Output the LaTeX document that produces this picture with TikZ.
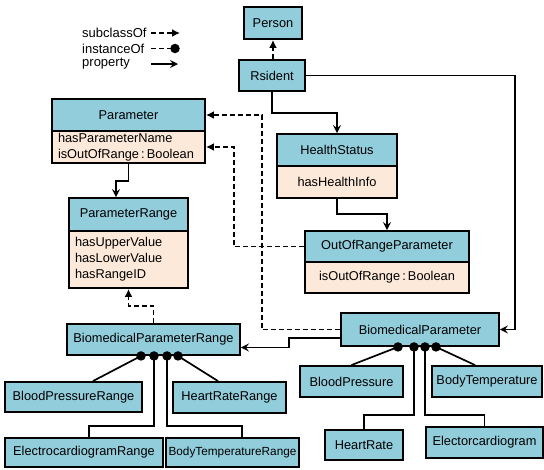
\documentclass[tikz,border=0pt]{standalone}
\usepackage{fontspec}
\setmainfont{Liberation Sans}
\usetikzlibrary{arrows.meta,calc}
\definecolor{hdr}{RGB}{146,205,220}
\definecolor{bdy}{RGB}{253,233,217}
\begin{document}
\begin{tikzpicture}[x=1pt,y=-1pt,
  box/.style={draw=black,line width=1.9pt,fill=hdr,inner sep=0pt,font=\fontsize{12.8}{16}\selectfont},
  body/.style={box,fill=bdy},
  conn/.style={line width=1.7pt},
  subc/.style={conn,dash pattern=on 5pt off 3pt,-{Latex[length=8pt,width=8pt]}},
  prop/.style={conn,-{Stealth[length=8pt,width=8pt,inset=3pt]}},
  inst/.style={conn},
  dot/.style={circle,fill=black,inner sep=0pt,minimum size=9.5pt},
  legtext/.style={inner sep=0pt,anchor=west,font=\fontsize{13}{15}\selectfont},
]
\useasboundingbox (0,0) rectangle (544,469);

% legend
\node[legtext] (lsub) at (82,33) {subclassOf};
\node[legtext] (linst) at (82,48.5) {instanceOf};
\node[legtext] (lprop) at (82,64) {property};
\coordinate (lsubS) at (151,33);
\coordinate (lsubE) at (180,33);
\coordinate (linstS) at (151,48.5);
\coordinate (linstE) at (175,48.5);
\coordinate (lpropS) at (151,64);
\coordinate (lpropE) at (178,64);
\draw[subc] (lsubS) -- (lsubE);
\draw[conn,dash pattern=on 5pt off 3pt] (linstS) -- (linstE);
\node[dot] (linstD) at (linstE) {};
\draw[prop] (lpropS) -- (lpropE);

% classes
\node[box,minimum width=58pt,minimum height=32pt] (person) at (273,23) {Person};
\node[box,minimum width=66pt,minimum height=31pt] (rsident) at (272,75.5) {Rsident};
\node[box,minimum width=153pt,minimum height=32pt] (param) at (128.5,115) {Parameter};
\node[body,align=left,inner xsep=6pt,text width=141pt,minimum height=32pt] (paramB) at (128.5,147) {hasParameterName\\isOutOfRange\thinspace:\thinspace Boolean};
\node[box,minimum width=119pt,minimum height=33pt] (prange) at (128.5,214.5) {ParameterRange};
\node[body,align=left,inner xsep=6pt,text width=107pt,minimum height=57pt] (prangeB) at (128.5,259.5) {hasUpperValue\\hasLowerValue\\hasRangeID};
\node[box,minimum width=120pt,minimum height=32pt] (health) at (337,150) {HealthStatus};
\node[body,minimum width=120pt,minimum height=32pt] (healthB) at (337,182) {hasHealthInfo};
\node[box,minimum width=164pt,minimum height=31pt] (oorp) at (387,246.5) {OutOfRangeParameter};
\node[body,minimum width=164pt,minimum height=31pt] (oorpB) at (387,277.5) {isOutOfRange\thinspace:\thinspace Boolean};
\node[box,minimum width=158pt,minimum height=33pt] (bp) at (420,329.5) {BiomedicalParameter};
\node[box,minimum width=173pt,minimum height=31pt] (bpr) at (153.5,339.5) {BiomedicalParameterRange};
\node[box,minimum width=137pt,minimum height=30pt] (bprr) at (73.5,397) {BloodPressureRange};
\node[box,minimum width=113pt,minimum height=31pt] (hrr) at (229.5,397.5) {HeartRateRange};
\node[box,minimum width=158pt,minimum height=29pt] (ecgr) at (84,452.5) {ElectrocardiogramRange};
\node[box,minimum width=133pt,minimum height=29pt,font=\fontsize{11.8}{14}\selectfont] (btr) at (232.5,452.5) {BodyTemperatureRange};
\node[box,minimum width=103pt,minimum height=31pt] (bpress) at (351.5,381.5) {BloodPressure};
\node[box,minimum width=110pt,minimum height=31pt] (btemp) at (487,381.5) {BodyTemperature};
\node[box,minimum width=78pt,minimum height=30pt] (hr) at (364,445) {HeartRate};
\node[box,minimum width=117pt,minimum height=31pt] (ecg) at (484.5,442.5) {Electorcardiogram};

% properties
\draw[subc] (rsident.north -| person.south) -- (person.south);
\draw[prop] (rsident.south) -- ++(0,21) -| (health.north);
\draw[prop] (rsident.east) -- ++(209,0) |- (bp.east);
\draw[prop] (healthB.south) -- ++(0,15) -| (oorp.north);
\draw[prop] (paramB.south) -- ++(0,17) -| ($(prange.north)+(-12.5,0)$);
\draw[subc] (oorp.west) -- ++(-70,0) |- (paramB.east);
\draw[subc] (bp.west) -- ++(-78,0) |- (param.east);
\draw[prop] ($(bp.west)+(0,8.5)$) -- ++(-51,0) |- ($(bpr.east)+(0,8)$);
\draw[subc] (bpr.north) -- ++(0,-17) -| (prangeB.south);

% instances of BiomedicalParameterRange
\coordinate (bprc1) at ($(bpr.south)+(-12.5,0)$);
\coordinate (bprc2) at ($(bpr.south)+(0.5,0)$);
\coordinate (bprc3) at ($(bpr.south)+(13.5,0)$);
\coordinate (bprc4) at ($(bpr.south)+(24.5,0)$);
\draw[inst] ($(bprr.north)+(19.5,0)$) -- (bprc1);
\draw[inst] ($(ecgr.north)+(5,0)$) |- ($(bprc2)+(0,70)$) -- (bprc2);
\draw[inst] ($(btr.north)+(9.5,0)$) |- ($(bprc3)+(0,70)$) -- (bprc3);
\draw[inst] ($(hrr.north)+(-11.5,0)$) -- (bprc4);
\node[dot] (bprd1) at (bprc1) {};
\node[dot] (bprd2) at (bprc2) {};
\node[dot] (bprd3) at (bprc3) {};
\node[dot] (bprd4) at (bprc4) {};

% instances of BiomedicalParameter
\coordinate (bpc1) at ($(bp.south)+(-22,0)$);
\coordinate (bpc2) at ($(bp.south)+(-6,0)$);
\coordinate (bpc3) at ($(bp.south)+(5,0)$);
\coordinate (bpc4) at ($(bp.south)+(16,0)$);
\draw[inst] (bpress.north) -- (bpc1);
\draw[inst] (hr.north) |- ($(bpc2)+(0,68)$) -- (bpc2);
\draw[inst] (ecg.north) |- ($(bpc3)+(0,68)$) -- (bpc3);
\draw[inst] ($(btemp.north)+(-12,0)$) -- (bpc4);
\node[dot] (bpd1) at (bpc1) {};
\node[dot] (bpd2) at (bpc2) {};
\node[dot] (bpd3) at (bpc3) {};
\node[dot] (bpd4) at (bpc4) {};
\end{tikzpicture}
\end{document}
